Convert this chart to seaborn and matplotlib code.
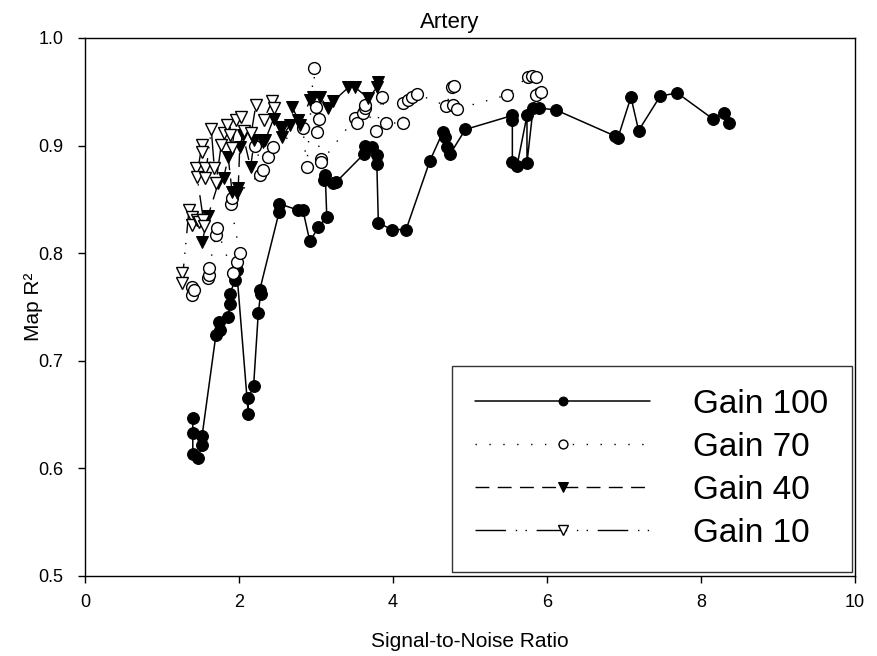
import matplotlib
matplotlib.use("Agg")
import matplotlib.pyplot as plt
import seaborn as sns
import pandas as pd

# ---- data ----
g100_x = [1.40, 1.40, 1.40, 1.47, 1.52, 1.52, 1.70, 1.75, 1.74, 1.86, 1.88, 1.88, 1.95, 1.97,
          2.12, 2.12, 2.19, 2.25, 2.28, 2.27, 2.52, 2.52, 2.77, 2.83, 2.92, 3.03, 3.14, 3.12,
          3.10, 3.22, 3.26, 3.62, 3.64, 3.73, 3.79, 3.79, 3.81, 3.99, 4.17, 4.48, 4.65, 4.67,
          4.70, 4.74, 4.94, 5.55, 5.55, 5.55, 5.61, 5.74, 5.74, 5.82, 5.90, 6.12, 6.88, 6.92,
          7.09, 7.19, 7.47, 7.69, 8.15, 8.30, 8.37]
g100_y = [0.647, 0.633, 0.613, 0.610, 0.622, 0.630, 0.724, 0.729, 0.736, 0.741, 0.753, 0.762,
          0.775, 0.784, 0.651, 0.665, 0.677, 0.744, 0.762, 0.766, 0.838, 0.846, 0.840, 0.840,
          0.811, 0.824, 0.834, 0.873, 0.868, 0.865, 0.866, 0.892, 0.900, 0.899, 0.891, 0.883,
          0.828, 0.822, 0.822, 0.886, 0.913, 0.908, 0.899, 0.892, 0.915, 0.928, 0.924, 0.885,
          0.881, 0.928, 0.884, 0.935, 0.935, 0.933, 0.909, 0.907, 0.945, 0.914, 0.946, 0.949,
          0.925, 0.930, 0.921]

g70_x = [1.39, 1.39, 1.41, 1.60, 1.61, 1.61, 1.70, 1.71, 1.92, 1.97, 2.01, 1.89, 1.91, 2.27,
         2.31, 2.21, 2.38, 2.44, 2.83, 2.88, 2.97, 3.00, 3.04, 3.01, 3.06, 3.07, 3.51, 3.53,
         3.61, 3.64, 3.63, 3.78, 3.86, 3.91, 4.13, 4.13, 4.19, 4.25, 4.31, 4.69, 4.77, 4.79,
         4.78, 4.83, 5.48, 5.75, 5.80, 5.86, 5.86, 5.92]
g70_y = [0.769, 0.761, 0.766, 0.777, 0.780, 0.786, 0.817, 0.823, 0.782, 0.792, 0.800, 0.846,
         0.851, 0.873, 0.877, 0.900, 0.889, 0.899, 0.916, 0.880, 0.972, 0.936, 0.925, 0.913,
         0.888, 0.885, 0.926, 0.921, 0.930, 0.935, 0.938, 0.914, 0.945, 0.921, 0.921, 0.940,
         0.942, 0.945, 0.948, 0.937, 0.954, 0.955, 0.938, 0.934, 0.947, 0.964, 0.965, 0.964,
         0.947, 0.950]

g40_x = [1.52, 1.60, 1.73, 1.80, 1.86, 1.91, 1.97, 1.99, 2.01, 2.05, 2.15, 2.20, 2.31, 2.34,
         2.45, 2.53, 2.56, 2.56, 2.66, 2.69, 2.77, 2.79, 2.92, 2.96, 3.05, 3.16, 3.22, 3.42,
         3.51, 3.68, 3.79, 3.81]
g40_y = [0.810, 0.835, 0.865, 0.870, 0.889, 0.857, 0.856, 0.861, 0.899, 0.910, 0.880, 0.905,
         0.903, 0.905, 0.925, 0.917, 0.916, 0.908, 0.919, 0.936, 0.924, 0.919, 0.942, 0.945,
         0.945, 0.935, 0.941, 0.954, 0.954, 0.944, 0.954, 0.959]

g10_x = [1.26, 1.26, 1.35, 1.39, 1.39, 1.45, 1.48, 1.53, 1.55, 1.44, 1.45, 1.52, 1.52, 1.56,
         1.56, 1.64, 1.68, 1.70, 1.77, 1.80, 1.84, 1.88, 1.91, 1.96, 2.03, 2.06, 2.16, 2.22,
         2.32, 2.43, 2.45]
g10_y = [0.782, 0.772, 0.840, 0.834, 0.826, 0.831, 0.829, 0.831, 0.825, 0.879, 0.871, 0.901,
         0.894, 0.879, 0.870, 0.915, 0.879, 0.865, 0.901, 0.912, 0.919, 0.910, 0.898, 0.924,
         0.927, 0.914, 0.912, 0.938, 0.924, 0.941, 0.935]

labels = ["Gain 100", "Gain 70", "Gain 40", "Gain 10"]
x_ticks = [0, 2, 4, 6, 8, 10]
y_ticks = [0.5, 0.6, 0.7, 0.8, 0.9, 1.0]

sns.set_theme(style="ticks")
plt.rcParams["font.family"] = ["Liberation Sans", "DejaVu Sans"]
plt.rcParams["text.color"] = "black"
plt.rcParams["axes.labelcolor"] = "black"

fig = plt.figure(figsize=(8.77, 6.56), dpi=100)
ax = fig.add_axes([85 / 877, 80 / 656, 770 / 877, 538 / 656])

series = [
    (g100_x, g100_y, dict(color="black", lw=1.1, linestyle="-", marker="o", markersize=8.5,
                          markerfacecolor="black", markeredgecolor="black")),
    (g70_x, g70_y, dict(color="black", lw=1.0, linestyle=(0, (1, 9)), marker="o", markersize=8.5,
                        markerfacecolor="white", markeredgecolor="black", markeredgewidth=1.0)),
    (g40_x, g40_y, dict(color="black", lw=1.0, linestyle=(0, (10, 6)), marker="v", markersize=9,
                        markerfacecolor="black", markeredgecolor="black")),
    (g10_x, g10_y, dict(color="black", lw=1.0, linestyle=(0, (22, 7, 1, 6, 1, 7)), marker="v",
                        markersize=9, markerfacecolor="white", markeredgecolor="black",
                        markeredgewidth=1.0)),
]

for (xs, ys, style), lab in zip(series, labels):
    df = pd.DataFrame({"snr": xs, "r2": ys})
    sns.lineplot(data=df, x="snr", y="r2", sort=False, estimator=None, ax=ax,
                 label=lab, legend=False, **style)

ax.set_xlim(0, 10)
ax.set_ylim(0.5, 1.0)
ax.set_xticks(x_ticks)
ax.set_xticklabels([str(t) for t in x_ticks])
ax.set_yticks(y_ticks)
ax.set_yticklabels([f"{t:.1f}" for t in y_ticks])
ax.tick_params(direction="out", length=5, width=1, labelsize=13, colors="black",
               top=False, right=False)
ax.tick_params(axis="x", pad=8)
ax.tick_params(axis="y", pad=10.5)
for s in ax.spines.values():
    s.set_visible(True)
    s.set_color("black")
    s.set_linewidth(1.0)

ax.set_xlabel("Signal-to-Noise Ratio", fontsize=15, labelpad=15)
ax.set_ylabel("Map R²", fontsize=15, labelpad=-3)
ax.set_title("Artery", fontsize=16, pad=7, x=0.474, color="black")

handles, labs = ax.get_legend_handles_labels()
leg = ax.legend(handles, labs, loc="lower right", bbox_to_anchor=(0.996, 0.007),
                fontsize=24, frameon=True, fancybox=False, edgecolor="black",
                handlelength=5.25, handletextpad=1.3, labelspacing=0.36, borderpad=0.7,
                markerscale=0.75, borderaxespad=0)
leg.get_frame().set_linewidth(1.0)
for t in leg.get_texts():
    t.set_color("black")

fig.savefig("out.png", dpi=100, facecolor="white")
